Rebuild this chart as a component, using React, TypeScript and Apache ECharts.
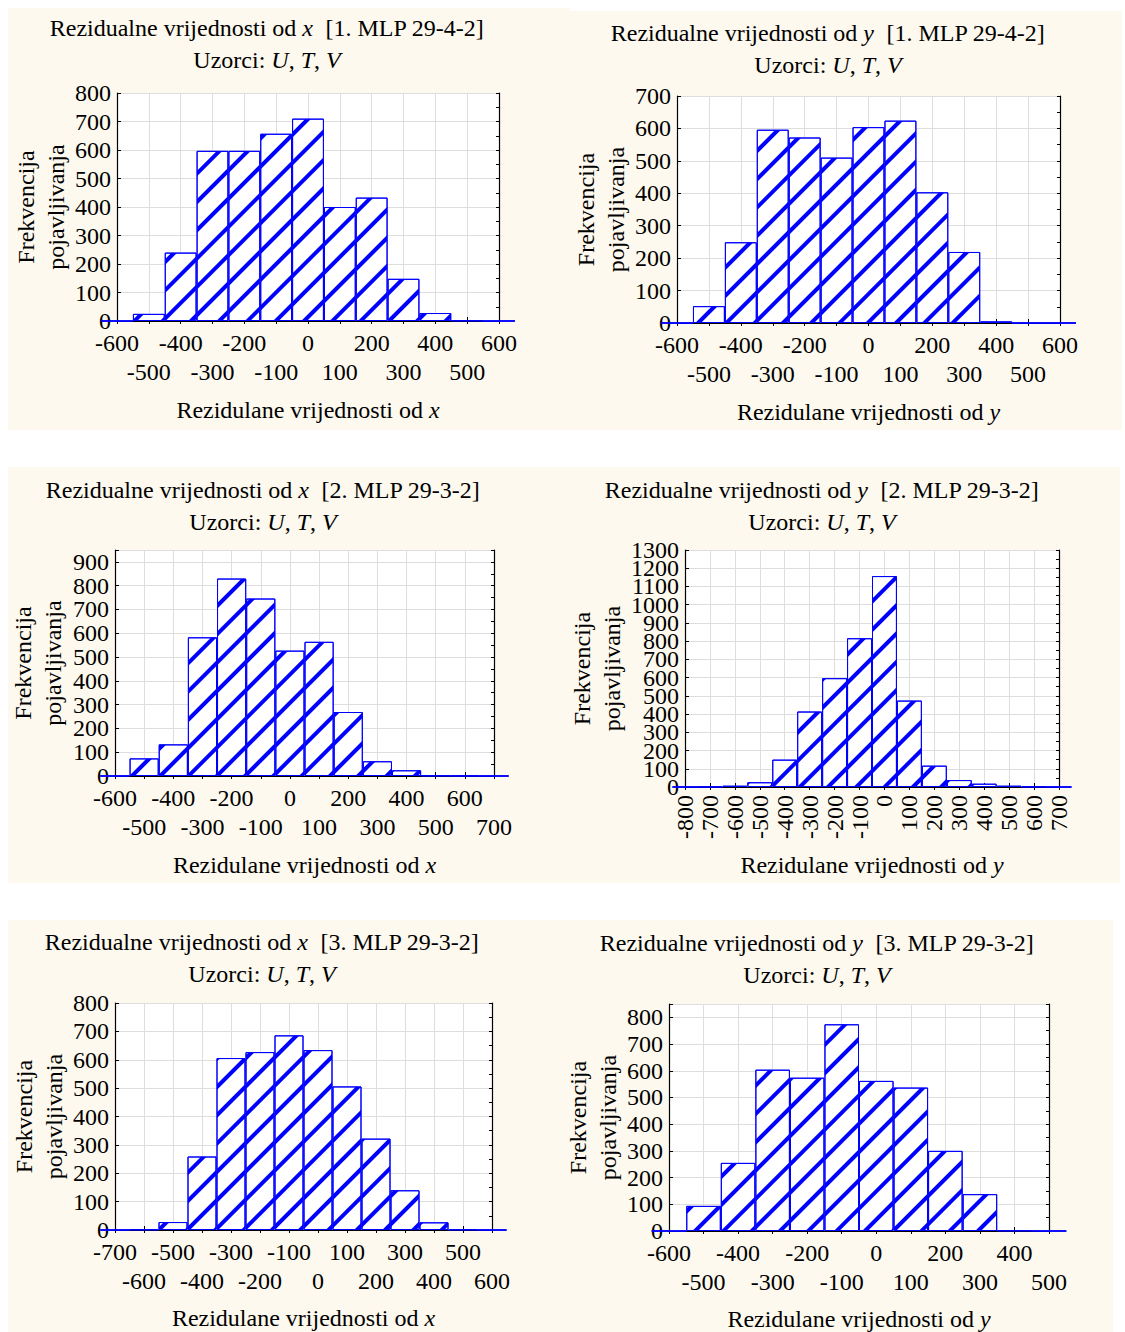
import React, { useEffect, useRef } from "react";
import * as echarts from "echarts";

// ---------- data ----------
const cats1 = ["-600", "-500", "-400", "-300", "-200", "-100", "0", "100", "200", "300", "400", "500", "600"];
const vals1 = [0, 25, 240, 597, 597, 657, 710, 400, 433, 148, 28, 2, 0];

const cats2 = ["-600", "-500", "-400", "-300", "-200", "-100", "0", "100", "200", "300", "400", "500", "600"];
const vals2 = [0, 52, 249, 596, 572, 510, 604, 624, 403, 219, 5, 0, 0];

const cats3 = ["-600", "-500", "-400", "-300", "-200", "-100", "0", "100", "200", "300", "400", "500", "600", "700"];
const vals3 = [0, 74, 133, 583, 830, 746, 527, 564, 269, 62, 24, 2, 1, 0];

const cats4 = ["-800", "-700", "-600", "-500", "-400", "-300", "-200", "-100", "0", "100", "200", "300", "400", "500", "600", "700"];
const vals4 = [0, 1, 7, 26, 150, 414, 597, 816, 1157, 474, 117, 38, 18, 7, 2, 0];

const cats5 = ["-700", "-600", "-500", "-400", "-300", "-200", "-100", "0", "100", "200", "300", "400", "500", "600"];
const vals5 = [0, 2, 28, 259, 606, 627, 686, 634, 506, 322, 140, 27, 2, 0];

const cats6 = ["-600", "-500", "-400", "-300", "-200", "-100", "0", "100", "200", "300", "400", "500"];
const vals6 = [0, 94, 255, 604, 574, 774, 562, 537, 300, 138, 2, 0];

const yMax = [800, 700, 950, 1300, 800, 850];
const varNames = ["x", "y", "x", "y", "x", "y"];
const modelNames = ["1. MLP 29-4-2", "1. MLP 29-4-2", "2. MLP 29-3-2", "2. MLP 29-3-2", "3. MLP 29-3-2", "3. MLP 29-3-2"];

// ---------- layout ----------
const FONT = "Liberation Serif";
const panels = [
  { bg: [8, 8, 562, 422], grid: [117, 93, 382, 228], title: [267, 12], yGap: 45, xGap: 77, rotate: false },
  { bg: [570, 11, 552, 419], grid: [677, 96, 383, 227], title: [828, 17], yGap: 45, xGap: 77, rotate: false },
  { bg: [8, 467, 557, 416], grid: [115, 550, 379, 226], title: [263, 474], yGap: 47, xGap: 77, rotate: false },
  { bg: [565, 467, 555, 416], grid: [685, 550, 374, 237], title: [822, 474], yGap: 57, xGap: 66, rotate: true },
  { bg: [8, 920, 552, 412], grid: [115, 1003, 377, 227], title: [262, 926], yGap: 45, xGap: 76, rotate: false },
  { bg: [560, 920, 553, 412], grid: [669, 1004, 380, 227], title: [817, 927], yGap: 44, xGap: 76, rotate: false },
];

const allCats = [cats1, cats2, cats3, cats4, cats5, cats6];
const allVals = [vals1, vals2, vals3, vals4, vals5, vals6];

export default function App() {
  const ref = useRef<HTMLDivElement>(null);
  useEffect(() => {
    document.body.style.margin = "0";
    if (!ref.current) return;
    const chart = echarts.init(ref.current, null, { renderer: "svg" });

    const grids: any[] = [];
    const xAxes: any[] = [];
    const yAxes: any[] = [];
    const series: any[] = [];
    const titles: any[] = [];
    const graphics: any[] = [];

    const labelBase = { fontFamily: FONT, fontSize: 24, color: "#000" };

    panels.forEach((p, i) => {
      graphics.push({
        type: "rect",
        z: -100,
        shape: { x: p.bg[0], y: p.bg[1], width: p.bg[2], height: p.bg[3] },
        style: { fill: "#fdf9ee" },
      });
      grids.push({
        left: p.grid[0],
        top: p.grid[1],
        width: p.grid[2],
        height: p.grid[3],
        show: true,
        backgroundColor: "#ffffff",
        borderWidth: 0,
      });
      titles.push({
        left: p.title[0],
        top: p.title[1],
        padding: 0,
        textAlign: "center",
        text:
          "{n|Rezidualne vrijednosti od }{i|" + varNames[i] + "}{n|  [" + modelNames[i] + "]}\n{n|Uzorci: }{i|U}{n|, }{i|T}{n|, }{i|V}",
        textStyle: {
          fontFamily: FONT,
          fontSize: 24,
          fontWeight: "normal",
          color: "#000",
          lineHeight: 32,
          rich: {
            n: { fontFamily: FONT, fontSize: 24, color: "#000", lineHeight: 32 },
            i: { fontFamily: FONT, fontSize: 24, color: "#000", lineHeight: 32, fontStyle: "italic" },
          },
        },
      });
      const cats = allCats[i];
      xAxes.push({
        type: "category",
        gridIndex: i,
        position: "bottom",
        data: cats,
        boundaryGap: false,
        axisLine: { show: true, lineStyle: { color: "#000", width: 1.2 } },
        axisTick: { show: true, inside: true, length: 4, interval: 0, lineStyle: { color: "#000" } },
        splitLine: { show: true, interval: 0, lineStyle: { color: "#dedede", width: 1 } },
        axisLabel: p.rotate
          ? { ...labelBase, interval: 0, rotate: 90, margin: 8 }
          : {
              ...labelBase,
              interval: 0,
              margin: 7,
              lineHeight: 29,
              formatter: (v: string, idx: number) => (idx % 2 === 1 ? "\n" + v : v),
            },
        name: "Rezidulane vrijednosti od {i|" + varNames[i] + "}",
        nameLocation: "middle",
        nameGap: p.xGap,
        nameTextStyle: {
          fontFamily: FONT,
          fontSize: 24,
          color: "#000",
          lineHeight: 24,
          rich: { i: { fontFamily: FONT, fontSize: 24, color: "#000", fontStyle: "italic", lineHeight: 24 } },
        },
      });
      xAxes.push({
        type: "category",
        gridIndex: i,
        position: "top",
        data: cats,
        boundaryGap: false,
        axisLine: { show: true, lineStyle: { color: "#000", width: 1.2 } },
        axisTick: { show: true, inside: true, length: 3, interval: 0, lineStyle: { color: "#000" } },
        axisLabel: { show: false },
        splitLine: { show: false },
      });
      // left axis: even hundreds (0, 200, ...) + line, ticks, grid, name
      yAxes.push({
        type: "value",
        gridIndex: i,
        position: "left",
        min: 0,
        max: yMax[i],
        interval: 100,
        axisLine: { show: true, lineStyle: { color: "#000", width: 1.2 } },
        axisTick: { show: true, inside: true, length: 4, lineStyle: { color: "#000" } },
        splitLine: { show: true, lineStyle: { color: "#dedede", width: 1 } },
        axisLabel: {
          ...labelBase,
          margin: 6,
          showMinLabel: true,
          showMaxLabel: true,
          formatter: (v: number) => (v % 200 === 0 ? String(v) : ""),
        },
        name: "Frekvencija\npojavljivanja",
        nameLocation: "middle",
        nameRotate: 90,
        nameGap: p.yGap,
        nameTextStyle: { fontFamily: FONT, fontSize: 24, color: "#000", lineHeight: 30 },
      });
      // left axis: odd hundreds (100, 300, ...) labels only
      yAxes.push({
        type: "value",
        gridIndex: i,
        position: "left",
        min: 0,
        max: yMax[i],
        interval: 100,
        axisLine: { show: false },
        axisTick: { show: false },
        splitLine: { show: false },
        axisLabel: {
          ...labelBase,
          margin: 6,
          showMinLabel: true,
          showMaxLabel: true,
          formatter: (v: number) => (v % 200 === 100 ? String(v) : ""),
        },
      });
      yAxes.push({
        type: "value",
        gridIndex: i,
        position: "right",
        min: 0,
        max: yMax[i],
        interval: 50,
        axisLine: { show: true, lineStyle: { color: "#000", width: 1.2 } },
        axisTick: { show: true, inside: true, length: 3, lineStyle: { color: "#000" } },
        axisLabel: { show: false },
        splitLine: { show: false },
      });
      series.push({
        type: "bar",
        xAxisIndex: 2 * i,
        yAxisIndex: 3 * i,
        data: allVals[i],
        barWidth: "100%",
        clip: true,
        itemStyle: {
          color: "#ffffff",
          borderColor: "#0000ff",
          borderWidth: 1,
          decal: {
            symbol: "rect",
            symbolSize: 1,
            color: "#0000ff",
            backgroundColor: null,
            dashArrayX: [1, 0],
            dashArrayY: [4, 16],
            rotation: -Math.PI / 4,
          },
        },
      });
    });

    chart.setOption({
      animation: false,
      backgroundColor: "#ffffff",
      textStyle: { fontFamily: FONT },
      title: titles,
      grid: grids,
      xAxis: xAxes,
      yAxis: yAxes,
      series,
      graphic: graphics,
    });
    return () => chart.dispose();
  }, []);
  return <div ref={ref} style={{ width: 1125, height: 1332 }} />;
}
